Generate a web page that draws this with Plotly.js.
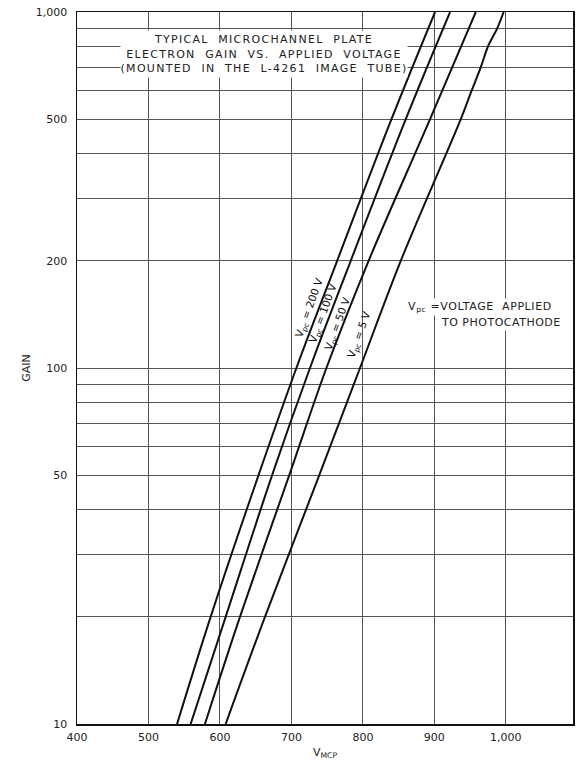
<!DOCTYPE html>
<html>
<head>
<meta charset="utf-8">
<script src="https://cdn.plot.ly/plotly-3.0.1.min.js"></script>
<style>
html,body{margin:0;padding:0;background:#fff;}
#chart{width:582px;height:760px;}
#chart .annotation[data-index="0"] text{letter-spacing:1.3px;}
#chart .annotation[data-index="1"] text{letter-spacing:0.6px;}
#chart .annotation[data-index="2"] text{letter-spacing:0.5px;}
</style>
</head>
<body>
<div id="chart"></div>
<script>
// Gain values (log axis) at which curve voltages were read
const gain = [10, 20, 50, 100, 200, 500, 1000];
// V_MCP (volts) for each photocathode voltage
const v200 = [540, 587, 654, 707, 764, 840, 901];
const v100 = [559, 608, 673, 726, 783, 860, 922];
const v50  = [579, 628, 697, 749, 808, 894, 958];
const gain5 = [10, 20, 50, 100, 200, 500, 600, 700, 800, 900, 1000];
const v5    = [608, 663, 739, 796, 853, 937, 952, 965, 975, 988, 997];

const xTickVals = [400, 500, 600, 700, 800, 900, 1000];
const xTickText = ['400', '500', '600', '700', '800', '900', '1,000'];
const yGridVals = [10,20,30,40,50,60,70,80,90,100,200,300,400,500,600,700,800,900,1000];
const yLabelMap = {10:'10', 50:'50', 100:'100', 200:'200', 500:'500', 1000:'1,000'};
const yTickText = yGridVals.map(v => yLabelMap[v] || '');

const curveLabels = [
  {text: 'V<sub>pc</sub> = 200 V', x: 726, g: 2.171},
  {text: 'V<sub>pc</sub> = 100 V', x: 745, g: 2.154},
  {text: 'V<sub>pc</sub> = 50 V', x: 765, g: 2.124},
  {text: 'V<sub>pc</sub> = 5 V', x: 795, g: 2.093}
];

const lineStyle = {color: '#111', width: 2, shape: 'spline', smoothing: 1};
const traces = [
  {x: v200, y: gain, mode: 'lines', line: lineStyle, name: '200 V'},
  {x: v100, y: gain, mode: 'lines', line: lineStyle, name: '100 V'},
  {x: v50, y: gain, mode: 'lines', line: lineStyle, name: '50 V'},
  {x: v5, y: gain5, mode: 'lines', line: lineStyle, name: '5 V'}
];

const font = {family: 'DejaVu Sans, sans-serif', size: 11, color: '#222'};
const annotations = [
  {
    text: 'TYPICAL\u00a0\u00a0MICROCHANNEL\u00a0\u00a0PLATE<br>ELECTRON\u00a0\u00a0GAIN\u00a0\u00a0VS.\u00a0\u00a0APPLIED\u00a0\u00a0VOLTAGE<br>(MOUNTED\u00a0\u00a0IN\u00a0\u00a0THE\u00a0\u00a0L-4261\u00a0\u00a0IMAGE\u00a0\u00a0TUBE)',
    x: 661.5, y: 2.882, xref: 'x', yref: 'y', showarrow: false,
    align: 'center', bgcolor: '#fff', borderpad: 0, width: 286, height: 46,
    font: {family: 'DejaVu Sans, sans-serif', size: 11, color: '#222'}
  },
  {
    text: 'V<sub>pc</sub> =VOLTAGE\u00a0\u00a0APPLIED', x: 860, y: 2.171, xref: 'x', yref: 'y',
    xanchor: 'left', align: 'left', width: 150, showarrow: false, bgcolor: '#fff', borderpad: 1, font: font
  },
  {
    text: 'TO PHOTOCATHODE', x: 906, y: 2.128, xref: 'x', yref: 'y',
    xanchor: 'left', align: 'left', width: 124, showarrow: false, bgcolor: '#fff', borderpad: 1, font: font
  }
].concat(curveLabels.map(c => ({
  text: c.text, x: c.x, y: c.g, xref: 'x', yref: 'y', showarrow: false,
  textangle: -70, font: {family: 'DejaVu Sans, sans-serif', size: 10.5, color: '#111'}
})));

const layout = {
  width: 582, height: 760,
  margin: {l: 77, r: 9, t: 12, b: 36},
  paper_bgcolor: '#fff', plot_bgcolor: '#fff',
  showlegend: false,
  font: font,
  xaxis: {
    range: [400, 1094], tickvals: xTickVals, ticktext: xTickText,
    showgrid: true, gridcolor: '#555', gridwidth: 1, zeroline: false,
    showline: true, mirror: true, linecolor: '#111', linewidth: 1.5,
    ticks: '', tickfont: font, ticklabelstandoff: 2,
    title: {text: 'V<sub>MCP</sub>', font: font, standoff: 6}
  },
  yaxis: {
    type: 'log', range: [1, 3], tickvals: yGridVals, ticktext: yTickText,
    showgrid: true, gridcolor: '#555', gridwidth: 1, zeroline: false,
    showline: true, mirror: true, linecolor: '#111', linewidth: 1.5,
    ticks: '', tickfont: font, ticklabelstandoff: 6,
    title: {text: 'GAIN', font: font, standoff: 3}
  },
  annotations: annotations
};

Plotly.newPlot('chart', traces, layout, {displayModeBar: false, staticPlot: true});
</script>
</body>
</html>
